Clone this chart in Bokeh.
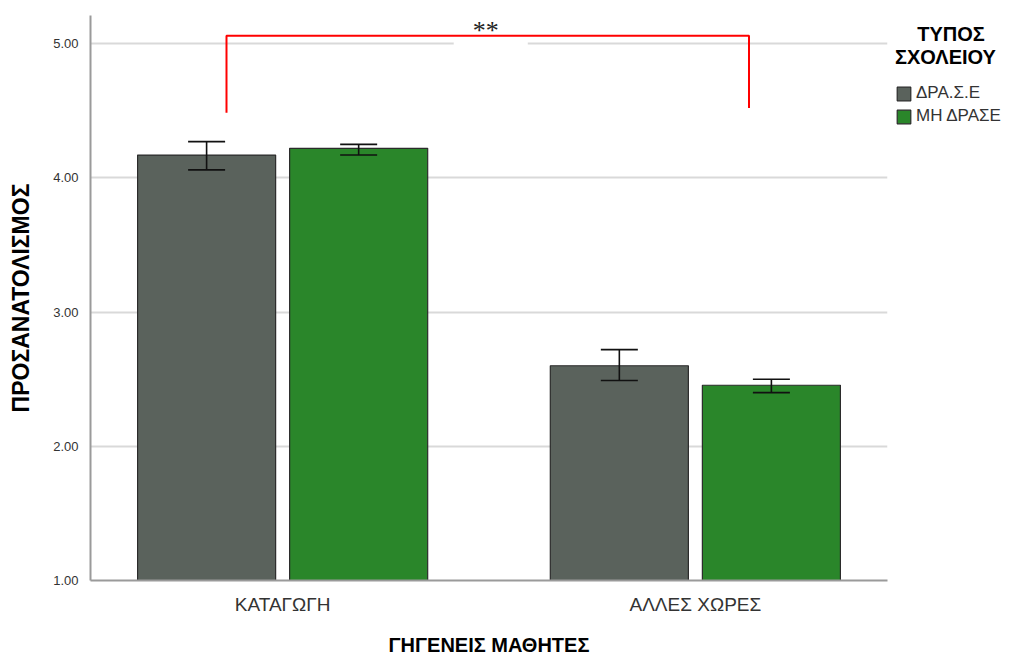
from bokeh.plotting import figure
from bokeh.models import (FactorRange, Range1d, ColumnDataSource, Whisker, TeeHead,
                          Legend, LegendItem, Label, NumeralTickFormatter, FixedTicker)
from bokeh.transform import dodge
from bokeh.embed import file_html
from bokeh.resources import INLINE

groups = ["ΚΑΤΑΓΩΓΗ", "ΑΛΛΕΣ ΧΩΡΕΣ"]
series = ["ΔΡΑ.Σ.Ε", "ΜΗ ΔΡΑΣΕ"]
means_drase = [4.17, 2.60]
means_mh = [4.22, 2.455]
lower_drase = [4.06, 2.49]
upper_drase = [4.27, 2.72]
lower_mh = [4.17, 2.40]
upper_mh = [4.25, 2.50]
series_colors = ["#5a625c", "#2a862a"]
y_ticks = [1, 2, 3, 4, 5]
bracket_x = [0.364, 0.364, 1.63, 1.63]
bracket_y = [4.485, 5.06, 5.06, 4.52]
sig_text = "**"
legend_title = "\u00a0\u00a0\u00a0\u00a0ΤΥΠΟΣ\nΣΧΟΛΕΙΟΥ"

SANS = "Liberation Sans"

p = figure(frame_width=797, frame_height=565,
           x_range=FactorRange(*groups, range_padding=-0.0345, range_padding_units="absolute"),
           y_range=Range1d(1, 5.21),
           output_backend="svg", toolbar_location=None,
           min_border_left=90, min_border_right=20, min_border_top=15, min_border_bottom=76)
p.outline_line_color = None
p.xgrid.grid_line_color = None
p.ygrid.grid_line_color = "#d9d9d9"
p.ygrid.grid_line_width = 2

# white gap behind significance label
p.quad(left=[0.9145], right=[1.094], bottom=[4.985], top=[5.015], fill_color="white", line_color=None)

offsets = [-0.1842, 0.1842]
renderers = []
data_sets = [(means_drase, lower_drase, upper_drase), (means_mh, lower_mh, upper_mh)]
for i, (s, col) in enumerate(zip(series, series_colors)):
    m, lo, up = data_sets[i]
    src = ColumnDataSource(dict(x=groups, top=m, lower=lo, upper=up))
    xd = dodge("x", offsets[i], range=p.x_range)
    r = p.vbar(x=xd, top="top", bottom=1, width=0.3345, source=src,
               fill_color=col, line_color="#2b2b2b", line_width=1.2)
    renderers.append(r)
    w = Whisker(base=xd, upper="upper", lower="lower", source=src, level="annotation",
                line_color="#111111", line_width=1.6,
                upper_head=TeeHead(size=37, line_color="#111111", line_width=1.6),
                lower_head=TeeHead(size=37, line_color="#111111", line_width=1.6))
    p.add_layout(w)

p.line(x=bracket_x, y=bracket_y, line_color="#ff0000", line_width=2)
p.add_layout(Label(x=0.992, y=5.205, text=sig_text, text_align="center", text_baseline="top",
                   text_font="Liberation Serif", text_font_size="26px", text_color="#222222"))

# axes
p.yaxis.ticker = FixedTicker(ticks=y_ticks)
p.yaxis.formatter = NumeralTickFormatter(format="0.00")
p.yaxis.major_tick_line_color = None
p.yaxis.minor_tick_line_color = None
p.yaxis.axis_line_color = "#9a9a9a"
p.yaxis.axis_line_width = 2
p.yaxis.major_label_text_font = SANS
p.yaxis.major_label_text_font_size = "13px"
p.yaxis.major_label_text_color = "#333333"
p.yaxis.major_label_standoff = 6
p.yaxis.axis_label = "ΠΡΟΣΑΝΑΤΟΛΙΣΜΟΣ"
p.yaxis.axis_label_text_font = SANS
p.yaxis.axis_label_text_font_size = "23px"
p.yaxis.axis_label_text_font_style = "bold"
p.yaxis.axis_label_text_color = "#000000"
p.yaxis.axis_label_standoff = 16

p.xaxis.major_tick_line_color = None
p.xaxis.minor_tick_line_color = None
p.xaxis.axis_line_color = "#9a9a9a"
p.xaxis.axis_line_width = 2
p.xaxis.major_label_text_font = SANS
p.xaxis.major_label_text_font_size = "19px"
p.xaxis.major_label_text_color = "#333333"
p.xaxis.major_label_standoff = 7
p.xaxis.axis_label = "ΓΗΓΕΝΕΙΣ ΜΑΘΗΤΕΣ"
p.xaxis.axis_label_text_font = SANS
p.xaxis.axis_label_text_font_size = "20px"
p.xaxis.axis_label_text_font_style = "bold"
p.xaxis.axis_label_text_color = "#000000"
p.xaxis.axis_label_standoff = 16

legend = Legend(items=[LegendItem(label=s, renderers=[r]) for s, r in zip(series, renderers)],
                title=legend_title, location="top_left")
legend.title_text_font = SANS
legend.title_text_font_size = "20px"
legend.title_text_font_style = "bold"
legend.title_text_color = "#000000"
legend.title_text_line_height = 1.0
legend.title_standoff = 14
legend.label_text_font = SANS
legend.label_text_font_size = "17px"
legend.label_text_color = "#333333"
legend.glyph_width = 17
legend.glyph_height = 17
legend.spacing = 3
legend.label_standoff = 4
legend.label_height = 17
legend.border_line_color = None
legend.background_fill_alpha = 0
legend.padding = 0
legend.margin = 8
p.add_layout(legend, "right")

open("out.html", "w").write(file_html(p, INLINE))
